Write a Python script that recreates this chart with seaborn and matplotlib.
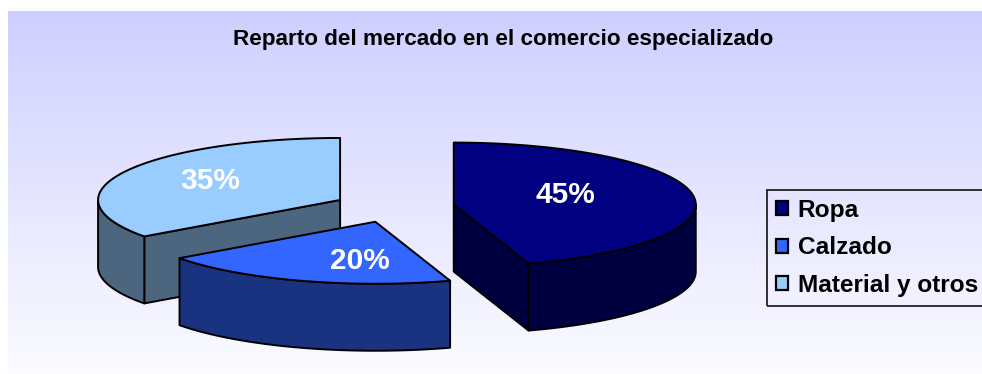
import numpy as np
import matplotlib
matplotlib.use("Agg")
import matplotlib.pyplot as plt
from matplotlib.patches import Polygon, Rectangle
import seaborn as sns

# ---- data ----
categories = ["Ropa", "Calzado", "Material y otros"]
shares = [45, 20, 35]
top_colors = ["#000080", "#3366FF", "#99CCFF"]
chart_title = "Reparto del mercado en el comercio especializado"

# ---- style ----
sns.set_style("white")
plt.rcParams["font.family"] = ["Liberation Sans", "DejaVu Sans"]

W, H = 982, 374
fig = plt.figure(figsize=(W / 100, H / 100), dpi=100)
ax = fig.add_axes([0, 0, 1, 1])

# chart area with a soft vertical gradient
grad = np.linspace(0, 1, 256)[:, None, None]
c_top = np.array([207, 207, 255]) / 255
c_bot = np.array([251, 251, 255]) / 255
ax.imshow(c_top + (c_bot - c_top) * grad, extent=[8, W, H, 11],
          aspect="auto", zorder=0, interpolation="bilinear")

ax.set_xlim(0, W)
ax.set_ylim(H, 0)
ax.axis("off")

# ---- 3D pie geometry (screen units) ----
cx, cy = 394, 207        # pie centre
ra, rb = 242, 62         # projected ellipse semi-axes
depth = 67               # thickness of the disc
explode = 0.25           # radial offset as a fraction of radius
label_pos = [(565, 195), (360, 261), (210, 181)]


def shade(hex_color, f=0.5):
    rgb = np.array(matplotlib.colors.to_rgb(hex_color))
    return tuple(rgb * f)


def rim(x0, y0, t, dz=0.0):
    t = np.atleast_1d(t)
    return np.column_stack([x0 + ra * np.cos(np.radians(t)),
                            y0 - rb * np.sin(np.radians(t)) + dz])


fracs = np.array(shares, dtype=float) / np.sum(shares)
cum = np.concatenate([[0], np.cumsum(fracs)])
slices = []
for i, (name, f) in enumerate(zip(categories, fracs)):
    t_hi = 90 - cum[i] * 360        # clockwise from 12 o'clock
    t_lo = 90 - cum[i + 1] * 360
    mid = np.radians((t_hi + t_lo) / 2)
    sx = cx + explode * ra * np.cos(mid)
    sy = cy - explode * rb * np.sin(mid)
    slices.append(dict(i=i, lo=t_lo, hi=t_hi, x=sx, y=sy))

edge_kw = dict(edgecolor="black", linewidth=1.4, joinstyle="round")

# paint from back to front
for s in sorted(slices, key=lambda d: d["y"]):
    i, lo, hi, sx, sy = s["i"], s["lo"], s["hi"], s["x"], s["y"]
    top_c = top_colors[i]
    side_c = shade(top_c)
    z = 10 + s["y"] / 100

    # radial cut faces facing the viewer
    for t, normal in ((lo, lo - 90), (hi, hi + 90)):
        if np.sin(np.radians(normal)) < -1e-6:
            p_out = rim(sx, sy, t)[0]
            poly = [(sx, sy), tuple(p_out), (p_out[0], p_out[1] + depth),
                    (sx, sy + depth)]
            ax.add_patch(Polygon(poly, closed=True, facecolor=side_c,
                                 zorder=z, **edge_kw))

    # outer curved wall (front half only)
    ts = np.linspace(lo, hi, 400)
    vis = np.sin(np.radians(ts)) <= 1e-9
    if vis.any():
        tv = ts[vis]
        upper = rim(sx, sy, tv)
        lower = rim(sx, sy, tv[::-1], depth)
        ax.add_patch(Polygon(np.vstack([upper, lower]), closed=True,
                             facecolor=side_c, zorder=z + 0.01, **edge_kw))

    # top face
    arc = rim(sx, sy, np.linspace(lo, hi, 400))
    ax.add_patch(Polygon(np.vstack([[sx, sy], arc]), closed=True,
                         facecolor=top_c, zorder=z + 0.02, **edge_kw))

    lx, ly = label_pos[i]
    ax.text(lx, ly, f"{shares[i]:d}%", color="white", fontsize=21.5,
            fontweight="bold", ha="center", va="center", zorder=z + 0.03)

# title
ax.text(503, 39, chart_title, fontsize=16.2, fontweight="bold",
        ha="center", va="center", color="black", zorder=20)

# legend
handles = [Rectangle((0, 0), 1, 1, facecolor=c, edgecolor="black",
                     linewidth=1.6) for c in top_colors]
leg = ax.legend(handles, categories, loc="upper left",
                bbox_to_anchor=(767, 190), bbox_transform=ax.transData,
                prop=dict(weight="bold", size=17.6), labelcolor="black",
                frameon=True, fancybox=False, handlelength=0.5,
                handleheight=0.5, handletextpad=0.4, labelspacing=0.6,
                borderpad=0.36, borderaxespad=0)
frame = leg.get_frame()
frame.set_facecolor("none")
frame.set_edgecolor("black")
frame.set_linewidth(1.4)
leg.set_zorder(30)

fig.savefig("out.png", dpi=100)
